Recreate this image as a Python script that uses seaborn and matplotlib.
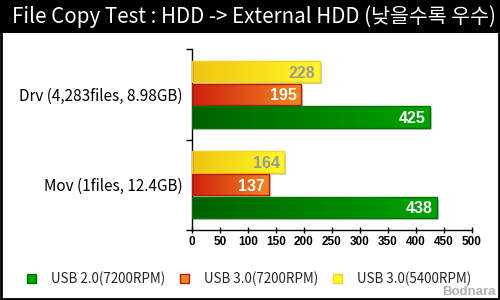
import numpy as np
import pandas as pd
import seaborn as sns
import matplotlib
matplotlib.use("Agg")
import matplotlib.pyplot as plt
from matplotlib.patches import Rectangle, Patch
from matplotlib.colors import LinearSegmentedColormap
import matplotlib.transforms as mtransforms

# ---- data ----
title = "File Copy Test : HDD -> External HDD (낮을수록 우수)"
categories = ["Drv (4,283files, 8.98GB)", "Mov (1files, 12.4GB)"]
series_names = ["USB 2.0(7200RPM)", "USB 3.0(7200RPM)", "USB 3.0(5400RPM)"]
usb20_7200 = [425, 438]
usb30_7200 = [195, 137]
usb30_5400 = [228, 164]
x_ticks = [0, 50, 100, 150, 200, 250, 300, 350, 400, 450, 500]
watermark = "Bodnara"

# ---- style ----
grad = {
    "USB 2.0(7200RPM)": ("#006200", "#00a400", "#007400"),
    "USB 3.0(7200RPM)": ("#d0200f", "#f5861e", "#b81c0c"),
    "USB 3.0(5400RPM)": ("#efc411", "#fffa22", "#f5d21c"),
}
label_color = {
    "USB 2.0(7200RPM)": "white",
    "USB 3.0(7200RPM)": "white",
    "USB 3.0(5400RPM)": "#9a9a9a",
}
kr_font = ["Noto Sans CJK KR", "DejaVu Sans"]
num_font = ["Liberation Sans", "DejaVu Sans"]

sns.set_theme(style="white")
plt.rcParams["font.family"] = kr_font

df = pd.DataFrame({
    "test": categories * 3,
    "time": usb20_7200 + usb30_7200 + usb30_5400,
    "interface": [series_names[0]] * 2 + [series_names[1]] * 2 + [series_names[2]] * 2,
})
hue_order = [series_names[2], series_names[1], series_names[0]]

fig = plt.figure(figsize=(5, 3), dpi=100)
fig.patch.set_facecolor("white")
ax = fig.add_axes([192 / 500, 1 - 230 / 300, 280 / 500, 181 / 300])
ax.set_facecolor("white")

sns.barplot(data=df, y="test", x="time", hue="interface", hue_order=hue_order,
            order=categories, orient="h", width=0.75, gap=0.06,
            palette={k: v[1] for k, v in grad.items()}, legend=False, ax=ax)

ax.set_xlim(0, 500)
ax.set_ylim(1.5, -0.5)

shadow_tr = mtransforms.offset_copy(ax.transData, fig=fig, x=1.5, y=-1.5, units="points")
gradient = np.linspace(0, 1, 256).reshape(1, -1)
for name, cont in zip(hue_order, ax.containers):
    c0, c1, ec = grad[name]
    cmap = LinearSegmentedColormap.from_list(name, [c0, c1])
    for patch, val in zip(cont.patches, cont.datavalues):
        x0, y0 = patch.get_x(), patch.get_y()
        w, h = patch.get_width(), patch.get_height()
        sh = Rectangle((x0, y0), w, h, transform=shadow_tr, facecolor="#b8b8b8",
                       edgecolor="none", alpha=0.7, zorder=1.5)
        ax.add_patch(sh)
        im = ax.imshow(gradient, extent=(x0, x0 + w, y0 + h, y0), aspect="auto",
                       cmap=cmap, zorder=2, interpolation="bilinear")
        im.set_clip_path(patch)
        patch.set_facecolor("none")
        patch.set_edgecolor(ec)
        patch.set_linewidth(1.0)
        patch.set_zorder(3)
        ax.annotate(f"{val:g}", xy=(x0 + w, y0 + h / 2), xytext=(-3, 0),
                    textcoords="offset points", ha="right", va="center_baseline",
                    fontsize=11.5, fontweight="bold", family=num_font,
                    color=label_color[name], zorder=4)
ax.set_xlim(0, 500)
ax.set_ylim(1.5, -0.5)

ax.set_xlabel("")
ax.set_ylabel("")
ax.set_xticks(x_ticks)
ax.set_xticklabels([str(t) for t in x_ticks], fontsize=8.5, fontweight="bold",
                   family=num_font)
ax.set_yticks([0, 1])
ax.set_yticklabels(categories, fontsize=11, family=kr_font, color="black")
ax.set_yticks([-0.5, 0.5, 1.5], minor=True)
ax.tick_params(axis="y", which="major", length=0, pad=7)
ax.tick_params(axis="y", which="minor", length=4, width=1, color="black", direction="out", left=True)
ax.tick_params(axis="x", which="major", length=5, width=1, color="black",
               direction="inout", bottom=True, pad=2, labelcolor="black")
for s in ["top", "right"]:
    ax.spines[s].set_visible(False)
for s in ["left", "bottom"]:
    ax.spines[s].set_color("black")
    ax.spines[s].set_linewidth(1)

# title band and frame
fig.patches.append(Rectangle((0, 1 - 33 / 300), 1, 33 / 300, transform=fig.transFigure,
                             facecolor="black", edgecolor="none", zorder=0))
fig.patches.append(Rectangle((0.002, 0.004), 0.995, 0.99, transform=fig.transFigure,
                             facecolor="none", edgecolor="black", linewidth=2, zorder=5))
fig.text(0.507, 1 - 17 / 300, title, color="white", fontsize=14.8, ha="center",
         va="center", family=kr_font)

handles = [Patch(facecolor=grad[n][1], edgecolor=grad[n][2], label=n) for n in series_names]
leg = fig.legend(handles=handles, loc="center", bbox_to_anchor=(0.498, 1 - 279 / 300),
                 ncol=3, frameon=False, fontsize=9.6, handlelength=0.7, handleheight=0.7,
                 handletextpad=1.1, columnspacing=1.1, borderpad=0)
for t in leg.get_texts():
    t.set_family(kr_font)

fig.text(0.992, 0.008, watermark, color="#b0b0b0", fontsize=9.5, fontweight="bold",
         ha="right", va="bottom", family=num_font, zorder=6)

fig.savefig("out.png", dpi=100)
